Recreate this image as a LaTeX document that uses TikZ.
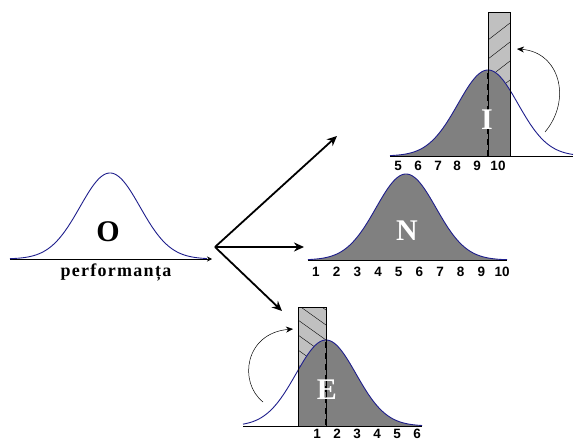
\documentclass[tikz,border=0pt]{standalone}
\usepackage{fontspec}
\setmainfont{Liberation Serif}
\newfontfamily\numfont{Liberation Sans}
\usetikzlibrary{arrows.meta}
\definecolor{curveblue}{RGB}{30,30,140}
\definecolor{fillgray}{RGB}{128,128,128}
\definecolor{barfill}{RGB}{192,192,192}
\tikzset{
  bell/.style={draw=curveblue, line width=0.9pt},
  baseln/.style={draw=black, line width=0.6pt},
  bigarrow/.style={line width=1.8pt, -{Stealth[length=10pt,width=9pt]}},
  bendarrow/.style={line width=0.5pt, -{Stealth[length=7pt,width=6pt]}},
  bigletter/.style={font=\bfseries\fontsize{30}{30}\selectfont, inner sep=0pt},
  numlab/.style={font=\numfont\bfseries\fontsize{13.5}{13.5}\selectfont, inner sep=0pt},
  barbox/.style={fill=barfill},
  hatch/.style={line width=0.4pt},
  midline/.style={line width=1.1pt, dash pattern=on 6pt off 5pt},
}
\begin{document}
\begin{tikzpicture}[x=1pt,y=-1pt,
  declare function={g(\x,\c)=86*exp(-((\x-\c)^2)/1800);}]
\useasboundingbox (0,0) rectangle (578,441);

% ---------- O ----------
\draw[baseln, -{Stealth[length=5pt,width=5pt]}] (10,259) -- (212,259);
\draw[bell] plot[domain=10:207, samples=120, smooth] (\x,{259-g(\x,110)});
\node[bigletter] (o) at (108,232) {O};
\node[font=\bfseries\fontsize{18}{18}\selectfont\addfontfeature{LetterSpace=7}, inner sep=0pt] (perf) at (116,272) {performanța};

% ---------- arrows ----------
\coordinate (src) at (215,247);
\coordinate (tI) at (337,136);
\coordinate (tN) at (304,247);
\coordinate (tE) at (282,311);
\draw[bigarrow] (src) -- (tI);
\draw[bigarrow] (src) -- (tN);
\draw[bigarrow] (src) -- (tE);

% ---------- N ----------
\fill[fillgray] plot[domain=308:507, samples=120, smooth] (\x,{260-g(\x,406)}) -- (507,260) -- (308,260) -- cycle;
\draw[bell] plot[domain=308:507, samples=120, smooth] (\x,{260-g(\x,406)});
\draw[baseln] (308,260) -- (507,260);
\node[bigletter, text=white] (n) at (407,231) {N};
\foreach \i in {1,...,10} {
  \node[numlab] (n\i) at ({316+20.67*(\i-1)},272) {\i};
}

% ---------- I ----------
\fill[barbox] (488,12) rectangle (510,156);
\begin{scope}
  \clip (488,12) rectangle (510,156);
  \foreach \k in {0,...,9} {
    \draw[hatch] (488,{40+19*\k}) -- (510,{23+19*\k});
  }
\end{scope}
\fill[fillgray] plot[domain=390:510, samples=120, smooth] (\x,{156-g(\x,488)}) -- (510,156) -- (390,156) -- cycle;
\draw[midline] (488,73) -- (488,156);
\draw[bell] plot[domain=390:573, samples=150, smooth] (\x,{156-g(\x,488)});
\draw[line width=0.6pt] (488,12) rectangle (510,156);
\draw[baseln] (390,156) -- (573,156);
\node[bigletter, text=white] (i) at (487,120) {I};
\foreach \i/\xx in {5/398,6/418,7/438,8/457,9/477,10/498} {
  \node[numlab] (i\i) at (\xx,166) {\i};
}
\coordinate (iA) at (545,132);
\coordinate (iB) at (517,49);
\draw[bendarrow] (iA) .. controls (572,100) and (560,52) .. (iB);

% ---------- E ----------
\fill[barbox] (298,307) rectangle (326,426);
\begin{scope}
  \clip (298,307) rectangle (326,426);
  \foreach \k in {0,...,8} {
    \draw[hatch] (298,{290+15*\k}) -- (326,{310+15*\k});
  }
\end{scope}
\fill[fillgray] plot[domain=298:422, samples=120, smooth] (\x,{426-g(\x,326)}) -- (422,426) -- (298,426) -- cycle;
\draw[midline] (326,342) -- (326,426);
\draw[bell] plot[domain=243:422, samples=150, smooth] (\x,{426-g(\x,326)});
\draw[line width=0.6pt] (298,307) rectangle (326,426);
\draw[baseln] (243,426) -- (422,426);
\node[bigletter, text=white] (e) at (327,390) {E};
\foreach \i in {1,...,6} {
  \node[numlab] (e\i) at ({317+20*(\i-1)},434) {\i};
}
\coordinate (eA) at (263,402);
\coordinate (eB) at (293,329);
\draw[bendarrow] (eA) .. controls (238,382) and (245,333) .. (eB);
\end{tikzpicture}
\end{document}
